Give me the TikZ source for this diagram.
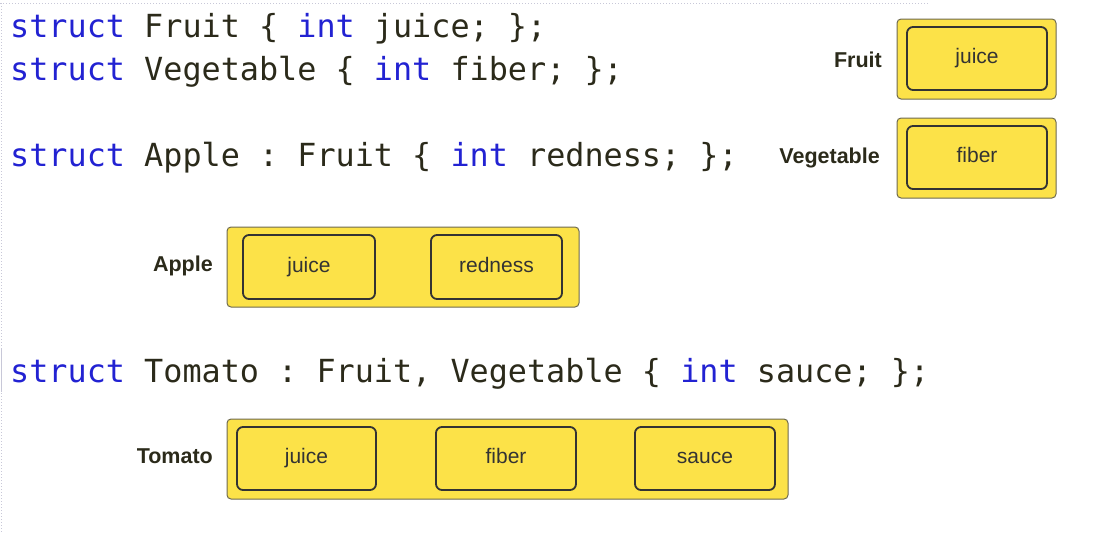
\documentclass[tikz,border=0pt]{standalone}
\usepackage{fontspec}
\setmainfont{Liberation Sans}
\newfontfamily\codefont{DejaVu Sans Mono}
\definecolor{kw}{RGB}{34,34,210}
\definecolor{ink}{RGB}{43,42,26}
\definecolor{fieldink}{RGB}{51,51,51}
\definecolor{yel}{RGB}{252,226,72}
\definecolor{outerline}{RGB}{110,106,80}
\definecolor{frame}{RGB}{200,200,216}
\tikzset{
  code/.style={anchor=base west, inner sep=0pt, text=ink, font=\codefont\fontsize{31.8}{36}\selectfont\frenchspacing},
  tname/.style={anchor=base east, inner sep=0pt, text=ink, font=\bfseries\fontsize{21.5}{24}\selectfont},
  outerbox/.style={draw=outerline, line width=1pt, fill=yel, rounded corners=4pt, inner sep=0pt},
  fieldbox/.style={draw=fieldink, line width=1.8pt, fill=yel, rounded corners=6pt, inner sep=0pt,
    text=fieldink, font=\fontsize{21}{24}\selectfont, text height=10pt, text depth=0pt},
}
\newcommand{\kw}[1]{\textcolor{kw}{#1}}
\begin{document}
\begin{tikzpicture}[x=1pt,y=-1pt]
\useasboundingbox (0,0) rectangle (1099,533);
% page frame
\coordinate (f0) at (0,3);
\coordinate (f1) at (928,3);
\coordinate (f2) at (1.5,3);
\coordinate (f3) at (1.5,533);
\draw[frame, line width=1pt, dotted] (f0) -- (f1);
\draw[frame, line width=1pt, dotted] (f2) -- (f3);
\coordinate (c0) at (1.5,348);
\coordinate (c1) at (1.5,392);
\draw[frame, line width=1.5pt] (c0) -- (c1);
% code
\node[code] (l1) at (10,37.5) {\kw{struct} Fruit \{ \kw{int} juice; \};};
\node[code] (l2) at (10,80.5) {\kw{struct} Vegetable \{ \kw{int} fiber; \};};
\node[code] (l3) at (10,166.5) {\kw{struct} Apple : Fruit \{ \kw{int} redness; \};};
\node[code] (l4) at (10,382) {\kw{struct} Tomato : Fruit, Vegetable \{ \kw{int} sauce; \};};
% Fruit
\node[outerbox, minimum width=159pt, minimum height=80pt] (fruit) at (976.5,59) {};
\node[fieldbox, minimum width=140pt, minimum height=63pt] (fruitjuice) at (977,58.5) {juice};
\node[tname] (fruitlbl) at (882,67) {Fruit};
% Vegetable
\node[outerbox, minimum width=159pt, minimum height=80pt] (veg) at (976.5,158) {};
\node[fieldbox, minimum width=140pt, minimum height=63pt] (vegfiber) at (977,157.5) {fiber};
\node[tname] (veglbl) at (880,163) {Vegetable};
% Apple
\node[outerbox, minimum width=352pt, minimum height=80pt] (apple) at (403,267) {};
\node[fieldbox, minimum width=132pt, minimum height=64pt] (applejuice) at (309,267) {juice};
\node[fieldbox, minimum width=131pt, minimum height=64pt] (appleredness) at (496.5,267) {redness};
\node[tname] (applelbl) at (213,271) {Apple};
% Tomato
\node[outerbox, minimum width=561pt, minimum height=80pt] (tomato) at (507.5,459) {};
\node[fieldbox, minimum width=139pt, minimum height=63pt] (tomjuice) at (306.5,458.5) {juice};
\node[fieldbox, minimum width=140pt, minimum height=63pt] (tomfiber) at (506,458.5) {fiber};
\node[fieldbox, minimum width=140pt, minimum height=63pt] (tomsauce) at (705,458.5) {sauce};
\node[tname] (tomlbl) at (213,463) {Tomato};
\end{tikzpicture}
\end{document}
